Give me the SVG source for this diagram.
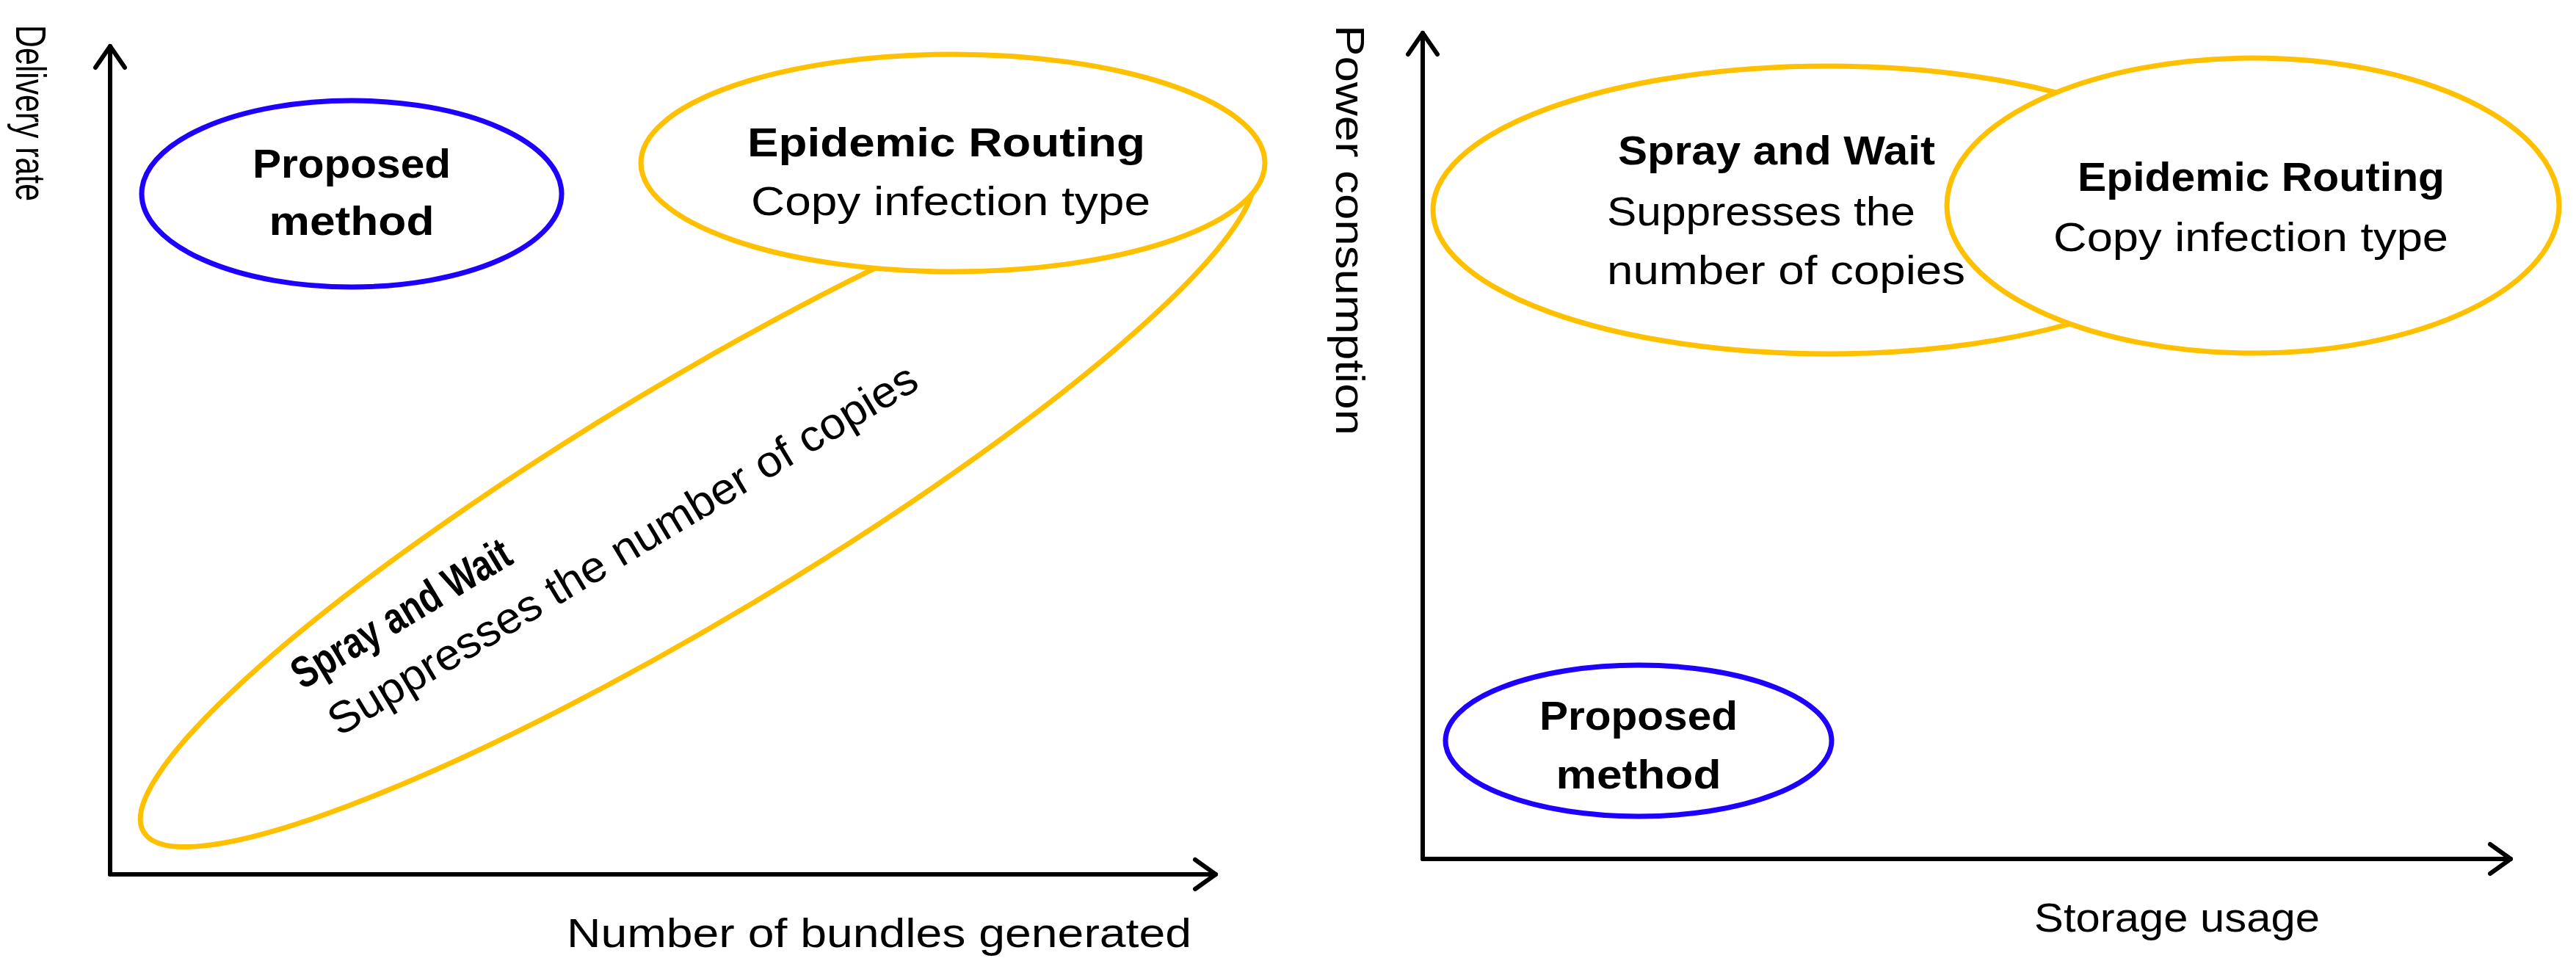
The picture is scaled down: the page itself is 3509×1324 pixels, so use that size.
<svg xmlns="http://www.w3.org/2000/svg" width="3509" height="1324" viewBox="0 0 3509 1324">
<style>
.ax{fill:none;stroke:#000;stroke-width:6;stroke-linecap:round;stroke-linejoin:round}
.or{fill:#fff;stroke:#FFC000;stroke-width:7}
.bl{fill:#fff;stroke:#1E00FF;stroke-width:7}
text{font-family:"Liberation Sans",Arial,sans-serif;font-size:56px;fill:#000}
.b{font-weight:bold}
.m{text-anchor:middle}
</style>
<rect width="3509" height="1324" fill="#fff"/>
<g id="axes">
<polyline class="ax" points="150,1191 150,63"/>
<polyline class="ax" points="130,92 150,63 170,92"/>
<polyline class="ax" points="150,1191 1656,1191"/>
<polyline class="ax" points="1628,1171 1656,1191 1628,1211"/>
<polyline class="ax" points="1938,1170 1938,45"/>
<polyline class="ax" points="1918,74 1938,45 1958,74"/>
<polyline class="ax" points="1938,1170 3420,1170"/>
<polyline class="ax" points="3392,1150 3420,1170 3392,1190"/>
</g>
<g id="labels">
<text transform="translate(22,34) rotate(90)" style="font-size:58px" textLength="240" lengthAdjust="spacingAndGlyphs">Delivery rate</text>
<text x="772" y="1290" textLength="851" lengthAdjust="spacingAndGlyphs">Number of bundles generated</text>
<text transform="translate(1820,34) rotate(90)" textLength="559" lengthAdjust="spacingAndGlyphs">Power consumption</text>
<text x="2771" y="1269" textLength="389" lengthAdjust="spacingAndGlyphs">Storage usage</text>
</g>
<g id="spray-left">
<ellipse class="or" cx="950" cy="680" rx="880" ry="160" transform="rotate(-31 950 680)"/>
<text class="b" transform="translate(412,940) rotate(-31)" style="font-size:60px" textLength="338" lengthAdjust="spacingAndGlyphs">Spray and Wait</text>
<text transform="translate(462,1004) rotate(-31)" style="font-size:60px" textLength="925" lengthAdjust="spacingAndGlyphs">Suppresses the number of copies</text>
</g>
<g id="epidemic-left">
<ellipse class="or" cx="1298" cy="222" rx="425" ry="148"/>
<text class="b" x="1018" y="213" textLength="542" lengthAdjust="spacingAndGlyphs">Epidemic Routing</text>
<text x="1023" y="293" textLength="544" lengthAdjust="spacingAndGlyphs">Copy infection type</text>
</g>
<g id="proposed-left">
<ellipse class="bl" cx="479" cy="264" rx="286" ry="127"/>
<text class="b m" x="479" y="242" textLength="270" lengthAdjust="spacingAndGlyphs">Proposed</text>
<text class="b m" x="479" y="320" textLength="225" lengthAdjust="spacingAndGlyphs">method</text>
</g>
<g id="spray-right">
<ellipse class="or" cx="2490" cy="286" rx="538" ry="196"/>
<text class="b" x="2204" y="224" textLength="432" lengthAdjust="spacingAndGlyphs">Spray and Wait</text>
<text x="2189" y="307" textLength="420" lengthAdjust="spacingAndGlyphs">Suppresses the</text>
<text x="2189" y="387" textLength="488" lengthAdjust="spacingAndGlyphs">number of copies</text>
</g>
<g id="epidemic-right">
<ellipse class="or" cx="3069" cy="280" rx="417" ry="201"/>
<text class="b" x="2830" y="260" textLength="500" lengthAdjust="spacingAndGlyphs">Epidemic Routing</text>
<text x="2797" y="342" textLength="538" lengthAdjust="spacingAndGlyphs">Copy infection type</text>
</g>
<g id="proposed-right">
<ellipse class="bl" cx="2232" cy="1009" rx="263" ry="103"/>
<text class="b m" x="2232" y="994" textLength="270" lengthAdjust="spacingAndGlyphs">Proposed</text>
<text class="b m" x="2232" y="1074" textLength="225" lengthAdjust="spacingAndGlyphs">method</text>
</g>
</svg>
